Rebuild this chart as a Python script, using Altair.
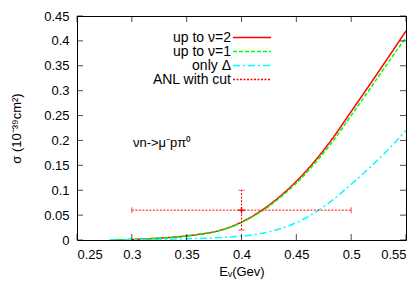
import altair as alt
import pandas as pd

# ---- data ----
energy = [0.28, 0.29, 0.30, 0.32, 0.34, 0.36, 0.38, 0.40, 0.42, 0.44, 0.46, 0.48, 0.50, 0.52, 0.54, 0.55]
sigma_nu2 = [0.000, 0.0004, 0.001, 0.003, 0.006, 0.011, 0.019, 0.036, 0.062, 0.097, 0.141, 0.195, 0.258, 0.322, 0.387, 0.420]
sigma_nu1 = [0.000, 0.0004, 0.001, 0.003, 0.006, 0.011, 0.019, 0.035, 0.060, 0.094, 0.137, 0.189, 0.250, 0.313, 0.376, 0.407]
sigma_delta = [0.000, 0.0002, 0.0005, 0.001, 0.002, 0.003, 0.005, 0.008, 0.014, 0.026, 0.046, 0.075, 0.112, 0.152, 0.196, 0.220]

series_names = ["up to ν=2", "up to ν=1", "only Δ", "ANL with cut"]
series_colors = ["#ff0000", "#00ff00", "#00ffff", "#ff0000"]
series_dashes = [[1, 0], [4, 2], [7, 3, 2, 3], [2, 1.5]]

anl_e = [0.4]
anl_sigma = [0.06]
anl_e_lo = [0.3]
anl_e_hi = [0.5]
anl_s_lo = [0.02]
anl_s_hi = [0.1]

x_ticks = [0.25, 0.3, 0.35, 0.4, 0.45, 0.5, 0.55]
y_ticks = [0, 0.05, 0.1, 0.15, 0.2, 0.25, 0.3, 0.35, 0.4, 0.45]
x_range = [0.25, 0.55]
y_range = [0, 0.45]

note_text = ["νn->μ⁻pπ⁰"]
note_e = [0.301]
note_sigma = [0.194]

# ---- tables ----
# label texts carry an invisible zero-width space so the text-only legend stays separate
label_names = [n + "\u200b" for n in series_names]
rows = []
for name, lab, ys in zip(series_names[:3], label_names[:3], [sigma_nu2, sigma_nu1, sigma_delta]):
    for e, s in zip(energy, ys):
        rows.append({"series": name, "label": lab, "E": e, "sigma": s})
curves = pd.DataFrame(rows)

anl = pd.DataFrame({"E": anl_e, "sigma": anl_sigma, "E_lo": anl_e_lo, "E_hi": anl_e_hi,
                    "s_lo": anl_s_lo, "s_hi": anl_s_hi})
xcaps = pd.DataFrame({"E": anl_e_lo + anl_e_hi, "sigma": anl_sigma * 2})
ycaps = pd.DataFrame({"E": anl_e * 2, "sigma": anl_s_lo + anl_s_hi})
note = pd.DataFrame({"E": note_e, "sigma": note_sigma, "t": note_text})
xt = pd.DataFrame({"v": x_ticks, "lo": y_range[0], "hi": y_range[1]})
yt = pd.DataFrame({"v": y_ticks, "lo": x_range[0], "hi": x_range[1]})

xscale = alt.Scale(domain=x_range, nice=False, zero=False)
yscale = alt.Scale(domain=y_range, nice=False, zero=False)

x_bottom = alt.Axis(orient="bottom", values=x_ticks, format=".2~f", labelPadding=8, ticks=False,
                    domain=False, grid=False, title="Eᵥ(Gev)", titlePadding=4)
y_left = alt.Axis(orient="left", values=y_ticks, format=".2~f", labelPadding=8, ticks=False,
                  domain=False, grid=False, title="σ (10⁻³⁹cm²)", titlePadding=20)

row_gap = {"expr": "-2"}
sym_legend = alt.Legend(title=None, orient="none", legendX=155, legendY=15, labelOpacity=0,
                        symbolType="stroke", symbolSize=1444, symbolStrokeWidth=1.5,
                        clipHeight=13, rowPadding=row_gap, padding=0, labelFontSize=14)
lab_legend = alt.Legend(title=None, orient="none", legendX=54, legendY=15, symbolOpacity=0,
                        symbolType="circle", symbolSize=4, labelAlign="right", labelOffset=86,
                        clipHeight=13, rowPadding=row_gap, padding=0, labelFontSize=14,
                        labelFont="Liberation Sans", labelColor="black")

X = lambda f: alt.X(f, scale=xscale, axis=None)
Y = lambda f: alt.Y(f, scale=yscale, axis=None)

lines = alt.Chart(curves).mark_line(strokeWidth=1.5, clip=True, interpolate="monotone").encode(
    x=alt.X("E:Q", scale=xscale, axis=x_bottom),
    y=alt.Y("sigma:Q", scale=yscale, axis=y_left),
    color=alt.Color("series:N", scale=alt.Scale(domain=series_names, range=series_colors), legend=sym_legend),
    strokeDash=alt.StrokeDash("series:N", scale=alt.Scale(domain=series_names, range=series_dashes), legend=sym_legend),
    order="E:Q",
)

labels_layer = alt.Chart(curves).mark_point(size=1, strokeOpacity=0, fillOpacity=0).encode(
    x=X("E:Q"), y=Y("sigma:Q"),
    fill=alt.Fill("label:N", scale=alt.Scale(domain=label_names, range=["black"] * 4), legend=lab_legend),
)

xerr = alt.Chart(anl).mark_rule(color="#ff0000", strokeWidth=1, strokeDash=[2, 1.5]).encode(
    x=X("E_lo:Q"), x2="E_hi:Q", y=Y("sigma:Q"))
yerr = alt.Chart(anl).mark_rule(color="#ff0000", strokeWidth=1, strokeDash=[2, 1.5]).encode(
    x=X("E:Q"), y=Y("s_lo:Q"), y2="s_hi:Q")
xcap = alt.Chart(xcaps).mark_tick(color="#ff0000", orient="vertical", size=6, thickness=1).encode(
    x=X("E:Q"), y=Y("sigma:Q"))
ycap = alt.Chart(ycaps).mark_tick(color="#ff0000", orient="horizontal", size=6, thickness=1).encode(
    x=X("E:Q"), y=Y("sigma:Q"))
point = alt.Chart(anl).mark_point(shape="M-1,0H1M0,-1V1", size=40, filled=False, strokeWidth=1.5,
                                  color="#ff0000", opacity=1).encode(x=X("E:Q"), y=Y("sigma:Q"))

text = alt.Chart(note).mark_text(align="left", baseline="middle", fontSize=13,
                                 font="Liberation Sans", color="black").encode(
    x=X("E:Q"), y=Y("sigma:Q"), text="t:N")

# inward (mirrored) tick marks on all four borders, placed through the scales
tick_bottom = alt.Chart(xt).mark_tick(color="black", orient="vertical", size=6, thickness=1, yOffset=-3).encode(
    x=X("v:Q"), y=Y("lo:Q"))
tick_top = alt.Chart(xt).mark_tick(color="black", orient="vertical", size=6, thickness=1, yOffset=3).encode(
    x=X("v:Q"), y=Y("hi:Q"))
tick_left = alt.Chart(yt).mark_tick(color="black", orient="horizontal", size=6, thickness=1, xOffset=3).encode(
    y=Y("v:Q"), x=X("lo:Q"))
tick_right = alt.Chart(yt).mark_tick(color="black", orient="horizontal", size=6, thickness=1, xOffset=-3).encode(
    y=Y("v:Q"), x=X("hi:Q"))

chart = alt.layer(
    lines, labels_layer, xerr, yerr, xcap, ycap, point, text,
    tick_bottom, tick_top, tick_left, tick_right,
).resolve_axis(
    x="independent", y="independent"
).properties(
    width=329, height=224,
    autosize=alt.AutoSizeParams(type="none"),
    padding={"left": 69, "top": 8, "right": 6, "bottom": 47},
).configure_view(
    stroke="black", strokeWidth=1
).configure_axis(
    labelFont="Liberation Sans", labelFontSize=13, labelColor="black",
    titleFont="Liberation Sans", titleFontSize=13, titleFontWeight="normal", titleColor="black",
).configure_legend(
    labelFont="Liberation Sans", labelColor="black",
)

chart.save("out.html", embed_options={"renderer": "svg", "actions": False})
